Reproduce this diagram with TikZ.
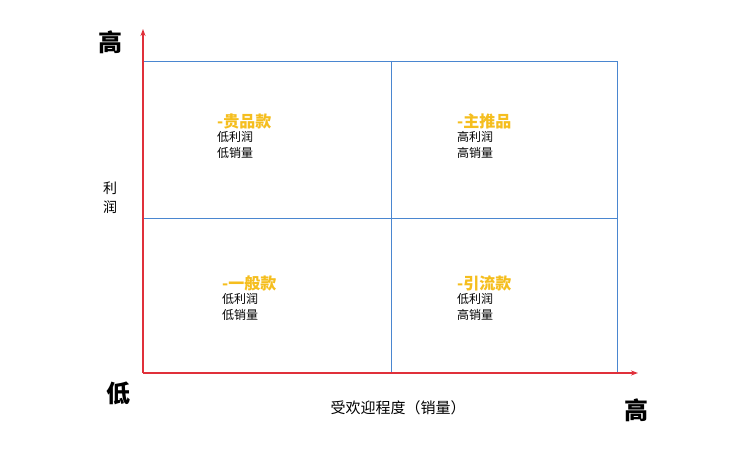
\documentclass[tikz,border=0pt]{standalone}
\usepackage{fontspec}
\setmainfont{Noto Sans CJK SC}
\usetikzlibrary{arrows.meta}
\definecolor{axisred}{HTML}{E0303A}
\definecolor{gridblue}{HTML}{4A86D0}
\definecolor{gold}{HTML}{F5BE1E}
\begin{document}
\begin{tikzpicture}[x=1pt,y=-1pt,
  axis/.style={draw=axisred,line width=1.6pt,-{Stealth[length=7pt,width=5pt]}},
  grid/.style={draw=gridblue,line width=0.9pt},
  big/.style={font=\fontsize{24}{26}\selectfont\bfseries},
  qtitle/.style={font=\fontsize{16}{17}\selectfont\bfseries,text=gold,anchor=west,inner sep=0pt},
  qtext/.style={font=\fontsize{12}{16}\selectfont,anchor=north west,inner sep=0pt,align=left},
  lab/.style={font=\fontsize{15}{16}\selectfont}]
\useasboundingbox (0,0) rectangle (732,454);
\fill[white] (0,0) rectangle (732,454);
\coordinate (O) at (143,373);
\coordinate (ytop) at (143,29);
\coordinate (xend) at (638,373);
\coordinate (tl) at (143,61);
\coordinate (br) at (617,373);
\coordinate (mt) at (391,61);
\coordinate (mb) at (391,373);
\coordinate (ml) at (143,218);
\coordinate (mr) at (617,218);
\draw[grid] (tl) -- (tl -| br) -- (br);
\draw[grid] (mt) -- (mb);
\draw[grid] (ml) -- (mr);
\draw[axis] (O) -- (ytop);
\draw[axis] (O) -- (xend);
\node[big] (yhigh) at (110,42) {高};
\node[big] (ylow) at (118,393) {低};
\node[big] (xhigh) at (636,410) {高};
\node[lab,align=center,font=\fontsize{14}{19}\selectfont] (ylab) at (110,198) {利\\润};
\node[lab] (xlab) at (398,408) {受欢迎程度（销量）};
\node[qtitle] (q1) at (217,121) {-贵品款};
\node[qtext] (q1t) at (217,131) {低利润\\低销量};
\node[qtitle] (q2) at (457,121) {-主推品};
\node[qtext] (q2t) at (457,131) {高利润\\高销量};
\node[qtitle] (q3) at (222,283) {-一般款};
\node[qtext] (q3t) at (222,293) {低利润\\低销量};
\node[qtitle] (q4) at (457,283) {-引流款};
\node[qtext] (q4t) at (457,293) {低利润\\高销量};
\end{tikzpicture}
\end{document}
